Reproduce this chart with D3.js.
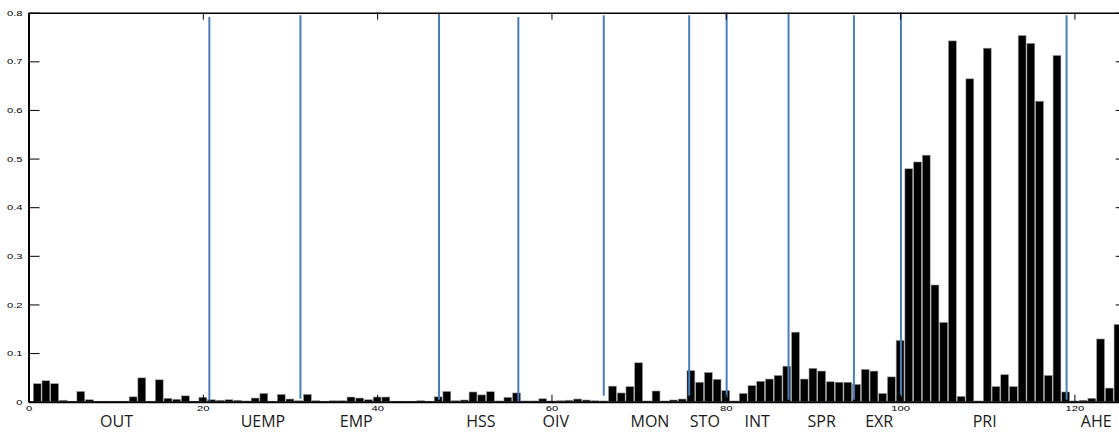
<!DOCTYPE html>
<html>
<head>
<meta charset="utf-8">
<script src="https://cdn.jsdelivr.net/npm/d3@7"></script>
<style>
  html, body { margin: 0; padding: 0; background: #fff; }
  svg { display: block; }
</style>
</head>
<body>
<svg id="chart" width="1119" height="433"></svg>
<script>
// bar heights, one per variable (1..125)
const values = [
  0.037, 0.043, 0.037, 0.003, 0.001, 0.021, 0.004, 0.001, 0.001, 0.001,
  0.001, 0.010, 0.049, 0.001, 0.045, 0.007, 0.005, 0.012, 0.001, 0.009,
  0.004, 0.003, 0.004, 0.003, 0.0015, 0.0075, 0.017, 0.001, 0.015, 0.0055,
  0.002, 0.015, 0.002, 0.001, 0.002, 0.002, 0.0096, 0.0075, 0.004, 0.0096,
  0.0096, 0.001, 0.001, 0.001, 0.002, 0.001, 0.010, 0.021, 0.002, 0.0035,
  0.020, 0.014, 0.0205, 0.0015, 0.009, 0.018, 0.0015, 0.0015, 0.006, 0.0015,
  0.002, 0.003, 0.0055, 0.0035, 0.002, 0.0015, 0.032, 0.018, 0.031, 0.080,
  0.0015, 0.022, 0.0015, 0.0035, 0.0055, 0.064, 0.040, 0.060, 0.046, 0.023,
  0.0015, 0.017, 0.033, 0.042, 0.0466, 0.054, 0.073, 0.143, 0.0466, 0.0686,
  0.063, 0.041, 0.040, 0.040, 0.0356, 0.0665, 0.063, 0.017, 0.051, 0.126,
  0.479, 0.493, 0.507, 0.240, 0.163, 0.742, 0.011, 0.664, 0.0015, 0.727,
  0.031, 0.0555, 0.031, 0.753, 0.737, 0.618, 0.054, 0.712, 0.020, 0.0015,
  0.003, 0.007, 0.129, 0.028, 0.159
]

// group names and where their label sits on the x axis
const groups = ['OUT', 'UEMP', 'EMP', 'HSS', 'OIV', 'MON', 'STO', 'INT', 'SPR', 'EXR', 'PRI', 'AHE']
const groupLabelAt = [10.1, 26.9, 37.6, 51.9, 60.5, 71.3, 77.6, 83.6, 91.0, 97.6, 109.7, 122.5]

// blue separators between groups (x position, top and bottom value)
const separators = [20.75, 31.2, 47.1, 56.2, 66.0, 75.8, 80.1, 87.2, 94.7, 100.1, 119.1]
const sepTop = [0.791, 0.795, 0.799, 0.791, 0.795, 0.795, 0.8, 0.8, 0.795, 0.8, 0.795]
const sepBottom = [0.002, 0.006, 0.004, 0.0, 0.012, 0.012, 0.008, 0.004, 0.004, 0.010, 0.004]

const xTicks = [0, 20, 40, 60, 80, 100, 120]
const yTicks = [0, 0.1, 0.2, 0.3, 0.4, 0.5, 0.6, 0.7, 0.8]

const margin = {top: 12.7, left: 28.5, bottom: 31.3}
const unit = 8.716
const plotRight = margin.left + 126 * unit
const height = 433 - margin.top - margin.bottom

const svg = d3.select('#chart')

const x = d3.scaleLinear()
  .domain([0, 126])
  .range([margin.left, plotRight])

const y = d3.scaleLinear()
  .domain([0, 0.8])
  .range([margin.top + height, margin.top])

// bars
svg.append('g')
  .selectAll('rect')
  .data(values)
  .enter()
  .append('rect')
  .attr('x', (d, i) => x(i + 1 - 0.45))
  .attr('width', x(0.9) - x(0))
  .attr('y', d => y(d))
  .attr('height', d => y(0) - y(d))
  .attr('fill', '#000')
  .attr('stroke', '#9a9a9a')
  .attr('stroke-width', 0.6)

// separator lines
svg.append('g')
  .selectAll('line')
  .data(separators)
  .enter()
  .append('line')
  .attr('x1', d => x(d))
  .attr('x2', d => x(d))
  .attr('y1', (d, i) => y(sepTop[i]))
  .attr('y2', (d, i) => y(sepBottom[i]))
  .attr('stroke', '#4a7ebb')
  .attr('stroke-width', 2)

const stretch = 'scale(1.4,1)'
const fmtY = d => d === 0 ? '0' : d3.format('.1f')(d)

// left axis, ticks pointing inward
const yAxis = d3.axisLeft(y).tickValues(yTicks).tickFormat(fmtY)
  .tickSizeInner(-11).tickSizeOuter(0).tickPadding(4.3)
const gy = svg.append('g')
  .attr('transform', 'translate(' + margin.left + ',0)')
  .call(yAxis)
gy.select('.domain').attr('stroke-width', 2)
gy.selectAll('text').attr('transform', stretch)

// right axis, ticks only
const gyr = svg.append('g')
  .attr('transform', 'translate(' + plotRight + ',0)')
  .call(d3.axisRight(y).tickValues(yTicks).tickFormat('')
    .tickSizeInner(-11).tickSizeOuter(0))

// bottom axis
const xAxis = d3.axisBottom(x).tickValues(xTicks).tickFormat(d3.format('d'))
  .tickSizeInner(-7).tickSizeOuter(0).tickPadding(4)
const gx = svg.append('g')
  .attr('transform', 'translate(0,' + y(0) + ')')
  .call(xAxis)
gx.select('.domain').attr('stroke-width', 2)
gx.selectAll('text').attr('transform', stretch)

// top axis, ticks only
svg.append('g')
  .attr('transform', 'translate(0,' + y(0.8) + ')')
  .call(d3.axisTop(x).tickValues(xTicks).tickFormat('')
    .tickSizeInner(-7).tickSizeOuter(0))
  .select('.domain').attr('stroke-width', 1.5)

svg.selectAll('.tick text')
  .attr('font-family', '"Liberation Sans", Arial, sans-serif')
  .attr('font-size', 8)
  .attr('fill', '#000')
svg.selectAll('.tick line').attr('stroke', '#000')

// group names under the axis
svg.append('g')
  .selectAll('text')
  .data(groups)
  .enter()
  .append('text')
  .attr('x', (d, i) => x(groupLabelAt[i]))
  .attr('y', 427)
  .attr('text-anchor', 'middle')
  .attr('font-family', '"Open Sans", sans-serif')
  .attr('font-size', 16)
  .attr('fill', '#1a1a1a')
  .text(d => d)
</script>
</body>
</html>
